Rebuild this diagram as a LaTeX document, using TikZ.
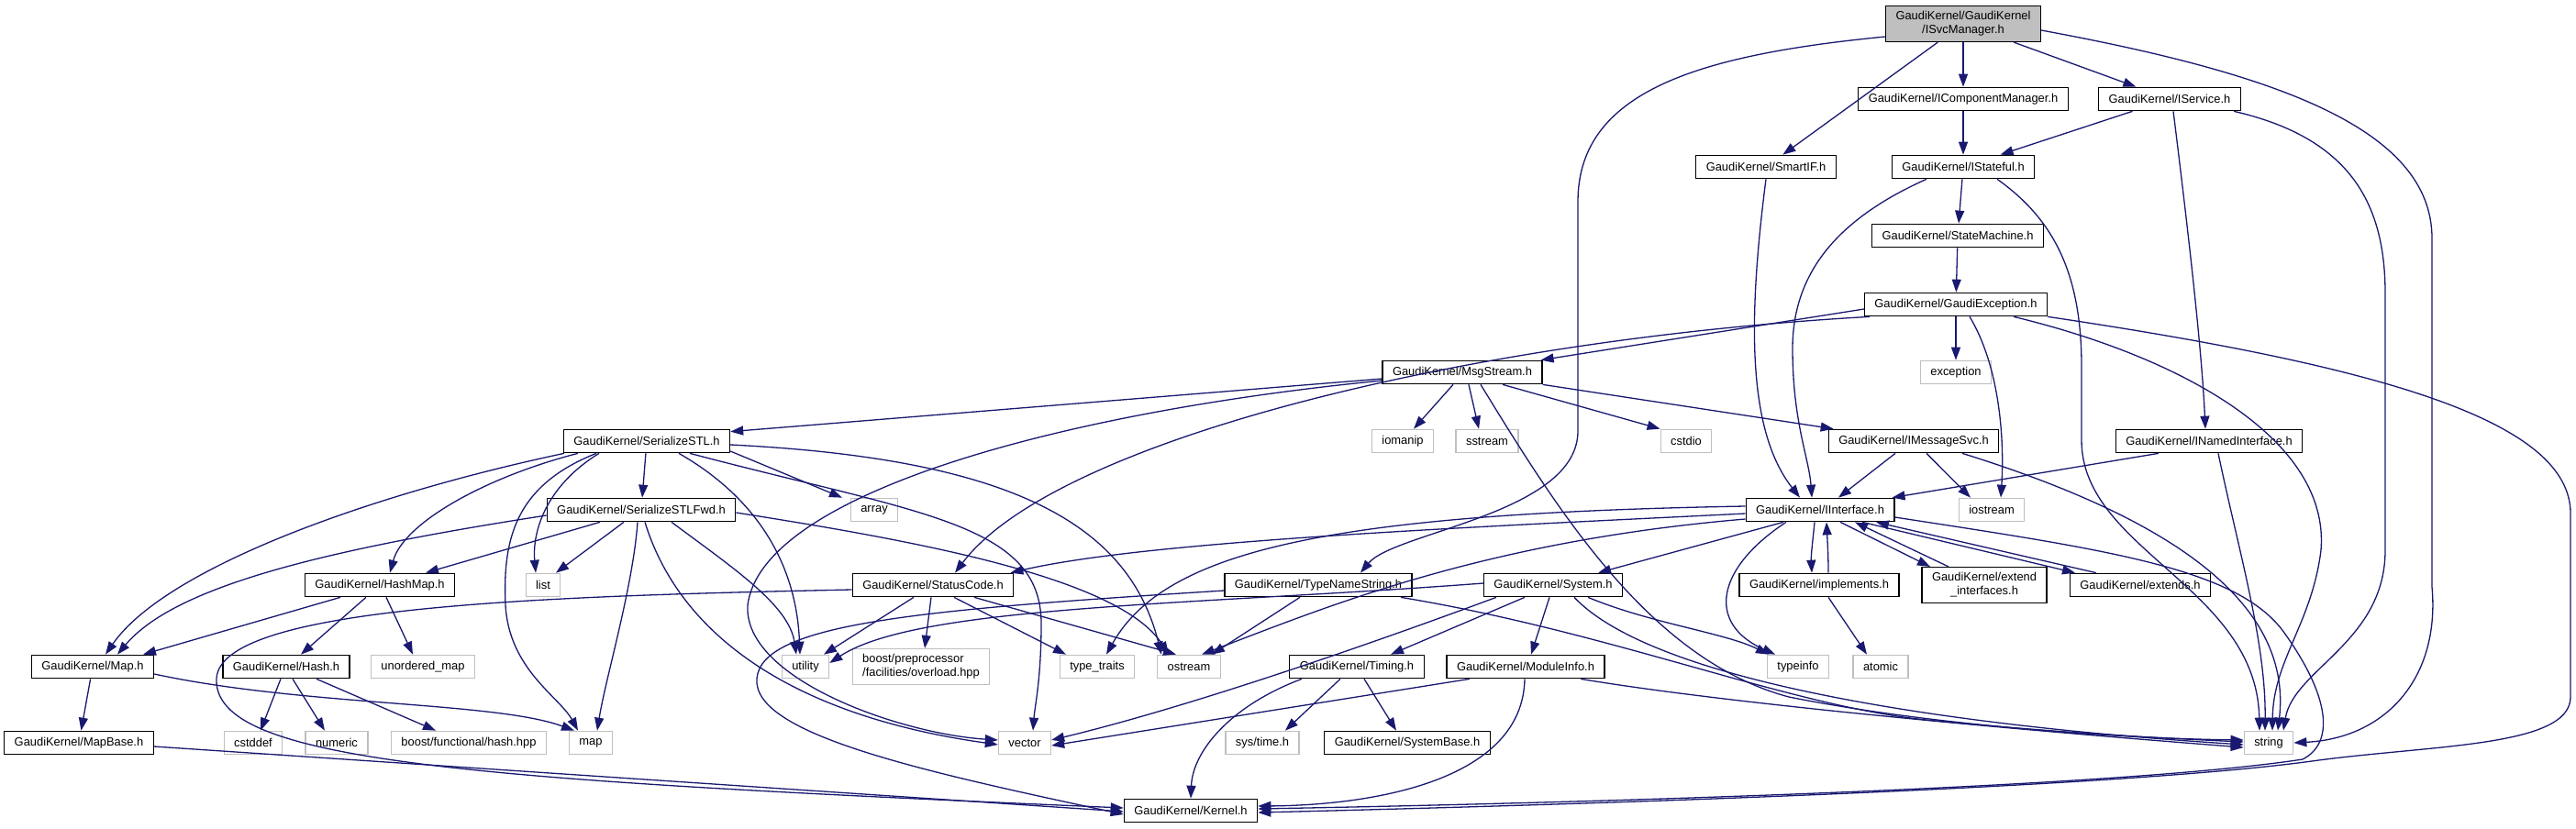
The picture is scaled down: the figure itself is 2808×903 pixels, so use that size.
\documentclass[tikz,border=0pt]{standalone}
\usepackage{tikz}
\usepackage{fontspec}
\setmainfont{Liberation Sans}
\usetikzlibrary{shapes.geometric, arrows.meta}
\definecolor{edgeblue}{HTML}{191970}
\definecolor{sysgray}{HTML}{BFBFBF}
\tikzstyle{filebox} = [rectangle, font=\fontsize{12.9}{15}\selectfont, inner xsep=11pt, inner ysep=6pt, minimum height=25.5pt, align=center, line width=1.2pt, fill=white, text=black]
\tikzstyle{incfile} = [filebox, draw=black]
\tikzstyle{stdfile} = [filebox, draw=sysgray]
\tikzstyle{mainfile} = [filebox, draw=black, fill=sysgray]
\tikzstyle{arrow} = [->, >={Triangle[length=14pt,width=10pt]}, draw=edgeblue, line width=1.3pt]

\begin{document}
\begin{tikzpicture}[x=1pt, y=-1pt]
\fill [white] (0,0) rectangle (2808,903);
\useasboundingbox (0,0) rectangle (2808,903);

\node (svcmgr) [mainfile] at (2140,26) {GaudiKernel/GaudiKernel\\/ISvcManager.h};
\node (compmgr) [incfile] at (2140,108) {GaudiKernel/IComponentManager.h};
\node (iservice) [incfile] at (2365,108) {GaudiKernel/IService.h};
\node (smartif) [incfile] at (1925,182) {GaudiKernel/SmartIF.h};
\node (istateful) [incfile] at (2140,182) {GaudiKernel/IStateful.h};
\node (statemachine) [incfile] at (2134,257) {GaudiKernel/StateMachine.h};
\node (gaudiexc) [incfile] at (2132,332) {GaudiKernel/GaudiException.h};
\node (exception) [stdfile] at (2132,406) {exception};
\node (msgstream) [incfile] at (1594,406) {GaudiKernel/MsgStream.h};
\node (iomanip) [stdfile] at (1529,481) {iomanip};
\node (sstream) [stdfile] at (1621,481) {sstream};
\node (cstdio) [stdfile] at (1838,481) {cstdio};
\node (imsgsvc) [incfile] at (2086,481) {GaudiKernel/IMessageSvc.h};
\node (inamed) [incfile] at (2408,481) {GaudiKernel/INamedInterface.h};
\node (serstl) [incfile] at (705,481) {GaudiKernel/SerializeSTL.h};
\node (array) [stdfile] at (953,556) {array};
\node (serfwd) [incfile] at (699,556) {GaudiKernel/SerializeSTLFwd.h};
\node (iinterface) [incfile] at (1984,556) {GaudiKernel/IInterface.h};
\node (iostream) [stdfile] at (2171,556) {iostream};
\node (hashmap) [incfile] at (414,638) {GaudiKernel/HashMap.h};
\node (list) [stdfile] at (592,638) {list};
\node (statuscode) [incfile] at (1017,638) {GaudiKernel/StatusCode.h};
\node (typename) [incfile] at (1437,638) {GaudiKernel/TypeNameString.h};
\node (system) [incfile] at (1693,638) {GaudiKernel/System.h};
\node (implements) [incfile] at (1983,638) {GaudiKernel/implements.h};
\node (extendif) [incfile] at (2163,638) {GaudiKernel/extend\\\_interfaces.h};
\node (extends) [incfile] at (2333,638) {GaudiKernel/extends.h};
\node (mapH) [incfile] at (101,727) {GaudiKernel/Map.h};
\node (hash) [incfile] at (312,727) {GaudiKernel/Hash.h};
\node (unorderedmap) [stdfile] at (461,727) {unordered\_map};
\node (utility) [stdfile] at (878,727) {utility};
\node (boostpp) [stdfile, align=left] at (1004,727) {boost/preprocessor\\/facilities/overload.hpp};
\node (typetraits) [stdfile] at (1196,727) {type\_traits};
\node (ostream) [stdfile] at (1296,727) {ostream};
\node (timing) [incfile] at (1479,727) {GaudiKernel/Timing.h};
\node (moduleinfo) [incfile] at (1663,727) {GaudiKernel/ModuleInfo.h};
\node (typeinfo) [stdfile] at (1960,727) {typeinfo};
\node (atomic) [stdfile] at (2050,727) {atomic};
\node (mapbase) [incfile] at (86,810) {GaudiKernel/MapBase.h};
\node (cstddef) [stdfile] at (276,810) {cstddef};
\node (numeric) [stdfile] at (367,810) {numeric};
\node (boosthash) [stdfile] at (511,810) {boost/functional/hash.hpp};
\node (stdmap) [stdfile] at (644,810) {map};
\node (vector) [stdfile] at (1117,810) {vector};
\node (systime) [stdfile] at (1376,810) {sys/time.h};
\node (systembase) [incfile] at (1534,810) {GaudiKernel/SystemBase.h};
\node (string) [stdfile] at (2473,810) {string};
\node (kernel) [incfile] at (1298,884) {GaudiKernel/Kernel.h};

% top of the graph
\draw [arrow] (svcmgr) -- (compmgr);
\draw [arrow] (svcmgr) -- (iservice);
\draw [arrow] (svcmgr) -- (smartif);
\draw [arrow] ([yshift=-14pt]svcmgr.west) .. controls (1850,60) and (1720,100) .. (1720,220) -- (1720,470) .. controls (1720,560) and (1520,580) .. ([xshift=46pt]typename.north);
\draw [arrow] ([yshift=-7pt]svcmgr.east) .. controls (2480,80) and (2651,140) .. (2651,260) -- (2651,640) .. controls (2660,740) and (2600,805) .. (string.east);

\draw [arrow] (compmgr) -- (istateful);
\draw [arrow] (iservice) -- (istateful);
\draw [arrow] ([xshift=4pt]iservice.south) .. controls (2385,250) and (2400,380) .. ([xshift=-4pt]inamed.north);
\draw [arrow] ([xshift=70pt]iservice.south) .. controls (2560,150) and (2600,220) .. (2600,320) -- (2600,600) .. controls (2600,700) and (2500,730) .. ([xshift=16pt]string.north);

\draw [arrow] (smartif.south) .. controls (1905,350) and (1905,470) .. ([xshift=-22pt]iinterface.north);
\draw [arrow] (istateful) -- (statemachine);
\draw [arrow] ([xshift=-40pt]istateful.south) .. controls (2000,240) and (1954,300) .. (1954,380) .. controls (1954,460) and (1972,500) .. ([xshift=-9pt]iinterface.north);
\draw [arrow] ([xshift=37pt]istateful.south) .. controls (2240,240) and (2269,300) .. (2269,400) -- (2269,480) .. controls (2269,600) and (2460,640) .. ([xshift=-10pt]string.north);

\draw [arrow] (statemachine) -- (gaudiexc);
\draw [arrow] (gaudiexc) -- (exception);
\draw [arrow] ([yshift=-5pt]gaudiexc.west) -- ([xshift=-2pt]msgstream.north east);
\draw [arrow] ([xshift=-94pt]gaudiexc.south) .. controls (1600,370) and (1150,480) .. ([xshift=24pt]statuscode.north);
\draw [arrow] ([xshift=15pt]gaudiexc.south) .. controls (2180,400) and (2185,480) .. ([xshift=10pt]iostream.north);
\draw [arrow] ([xshift=63pt]gaudiexc.south) .. controls (2380,390) and (2540,480) .. (2530,600) .. controls (2520,680) and (2478,720) .. ([xshift=4pt]string.north);
\draw [arrow] (gaudiexc.south east) .. controls (2600,400) and (2802,460) .. (2802,560) -- (2802,760) .. controls (2802,815) and (2650,812) .. (2520,830) .. controls (2300,860) and (1700,878) .. ([yshift=-2pt]kernel.east);

% MsgStream and IMessageSvc
\draw [arrow] ([yshift=-7pt]msgstream.west) -- ([yshift=-3pt]serstl.north east);
\draw [arrow] ([yshift=-9pt]msgstream.west) .. controls (1150,450) and (830,540) .. (815,660) .. controls (810,740) and (980,800) .. ([yshift=3pt]vector.west);
\draw [arrow] ([xshift=-10pt]msgstream.south) -- ([xshift=12pt]iomanip.north);
\draw [arrow] ([xshift=7pt]msgstream.south) -- ([xshift=-9pt]sstream.north);
\draw [arrow] ([xshift=20pt]msgstream.south) .. controls (1700,560) and (1800,720) .. (1950,760) .. controls (2100,790) and (2300,805) .. ([yshift=3pt]string.west);
\draw [arrow] ([xshift=44pt]msgstream.south) -- (cstdio.north west);
\draw [arrow] (msgstream.south east) -- ([xshift=6pt]imsgsvc.north west);

\draw [arrow] ([xshift=-20pt]imsgsvc.south) -- ([xshift=20pt]iinterface.north);
\draw [arrow] ([xshift=14pt]imsgsvc.south) -- ([xshift=-23pt]iostream.north);
\draw [arrow] ([xshift=53pt]imsgsvc.south) .. controls (2350,560) and (2500,650) .. ([xshift=10pt]string.north);

\draw [arrow] ([xshift=-55pt]inamed.south) -- ([xshift=-3pt]iinterface.north east);
\draw [arrow] ([xshift=10pt]inamed.south) .. controls (2440,600) and (2470,700) .. ([xshift=-4pt]string.north);

% SerializeSTL
\draw [arrow] ([xshift=-90pt]serstl.south) .. controls (400,540) and (180,620) .. ([xshift=14pt]mapH.north);
\draw [arrow] ([xshift=-75pt]serstl.south) .. controls (530,520) and (440,570) .. ([xshift=11pt]hashmap.north);
\draw [arrow] ([xshift=-55pt]serstl.south) .. controls (560,530) and (548,590) .. (551,660) .. controls (555,730) and (610,760) .. ([xshift=-14pt]stdmap.north);
\draw [arrow] ([xshift=-52pt]serstl.south) .. controls (595,530) and (580,580) .. ([xshift=-8pt]list.north);
\draw [arrow] (serstl) -- (serfwd);
\draw [arrow] ([xshift=35pt]serstl.south) .. controls (820,540) and (868,610) .. ([xshift=-6pt]utility.north);
\draw [arrow] ([xshift=47pt]serstl.south) .. controls (1000,560) and (1135,570) .. (1135,680) .. controls (1135,740) and (1128,770) .. ([xshift=9pt]vector.north);
\draw [arrow] ([yshift=-4pt]serstl.east) .. controls (1100,500) and (1230,570) .. ([xshift=-30pt]ostream.north);
\draw [arrow] ([yshift=-11pt]serstl.east) -- ([xshift=-35pt]array.north);

\draw [arrow] ([yshift=-6pt]serfwd.west) .. controls (350,600) and (190,640) .. ([xshift=27pt]mapH.north);
\draw [arrow] ([xshift=-45pt]serfwd.south) -- ([xshift=50pt]hashmap.north);
\draw [arrow] ([xshift=-19pt]serfwd.south) -- ([xshift=14pt]list.north);
\draw [arrow] ([xshift=-4pt]serfwd.south) .. controls (690,640) and (660,740) .. ([xshift=7pt]stdmap.north);
\draw [arrow] ([xshift=4pt]serfwd.south) .. controls (740,690) and (860,780) .. ([yshift=-2pt]vector.west);
\draw [arrow] ([xshift=33pt]serfwd.south) .. controls (800,620) and (860,660) .. ([xshift=-10pt]utility.north);
\draw [arrow] ([yshift=-3pt]serfwd.east) .. controls (1000,590) and (1220,630) .. ([xshift=-22pt]ostream.north);

% maps and hashes
\draw [arrow] ([xshift=-43pt]hashmap.south) -- ([xshift=55pt]mapH.north);
\draw [arrow] ([xshift=-15pt]hashmap.south) -- ([xshift=16pt]hash.north);
\draw [arrow] ([xshift=7pt]hashmap.south) -- ([xshift=-11pt]unorderedmap.north);
\draw [arrow] (mapH) -- (mapbase);
\draw [arrow] ([yshift=-8pt]mapH.east) .. controls (330,770) and (540,765) .. ([xshift=-18pt]stdmap.north);
\draw [arrow] ([yshift=-4pt]mapbase.east) -- ([yshift=-1pt]kernel.west);
\draw [arrow] ([xshift=-6pt]hash.south) -- ([xshift=8pt]cstddef.north);
\draw [arrow] ([xshift=7pt]hash.south) -- ([xshift=-13pt]numeric.north);
\draw [arrow] ([xshift=33pt]hash.south) -- ([xshift=-36pt]boosthash.north);

% StatusCode and TypeNameString
\draw [arrow] ([xshift=-21pt]statuscode.south) -- ([xshift=20pt]utility.north);
\draw [arrow] ([xshift=-2pt]statuscode.south) -- ([xshift=4pt]boostpp.north);
\draw [arrow] ([xshift=23pt]statuscode.south) -- ([xshift=-34pt]typetraits.north);
\draw [arrow] ([xshift=45pt]statuscode.south) -- ([xshift=-14pt]ostream.north);
\draw [arrow] ([yshift=-5pt]statuscode.west) .. controls (600,650) and (240,660) .. (236,740) .. controls (232,830) and (500,850) .. ([yshift=3pt]kernel.west);

\draw [arrow] ([xshift=-20pt]typename.south) -- ([xshift=25pt]ostream.north);
\draw [arrow] ([xshift=90pt]typename.south) .. controls (1760,690) and (1950,770) .. (2100,785) .. controls (2250,800) and (2380,806) .. ([yshift=1pt]string.west);
\draw [arrow] ([yshift=-6pt]typename.west) .. controls (1000,665) and (830,680) .. (825,740) .. controls (820,800) and (1000,840) .. ([yshift=-4pt]kernel.west);

% IInterface
\draw [arrow] ([yshift=-4pt]iinterface.west) .. controls (1600,575) and (1250,590) .. ([xshift=-4pt]statuscode.north east);
\draw [arrow] ([yshift=4pt]iinterface.west) .. controls (1450,560) and (1270,600) .. ([xshift=10pt]typetraits.north);
\draw [arrow] ([yshift=-10pt]iinterface.west) .. controls (1620,590) and (1450,660) .. ([xshift=14pt]ostream.north);
\draw [arrow] ([xshift=-40pt]iinterface.south) -- ([xshift=49pt]system.north);
\draw [arrow] ([xshift=-37pt]iinterface.south) .. controls (1870,620) and (1860,680) .. ([xshift=-25pt]typeinfo.north);
\draw [arrow] ([xshift=-6pt]iinterface.south) .. controls (1976,590) and (1974,605) .. ([xshift=-8pt]implements.north);
\draw [arrow] ([xshift=10pt]implements.north) .. controls (1993,605) and (1992,590) .. ([xshift=7pt]iinterface.south);
\draw [arrow] ([xshift=22pt]iinterface.south) -- ([xshift=-59pt]extendif.north);
\draw [arrow] ([xshift=-39pt]extendif.north) -- ([xshift=38pt]iinterface.south);
\draw [arrow] ([xshift=46pt]iinterface.south) -- ([xshift=-71pt]extends.north);
\draw [arrow] ([xshift=-48pt]extends.north) -- ([xshift=61pt]iinterface.south);
\draw [arrow] ([yshift=-8pt]iinterface.east) .. controls (2300,600) and (2440,620) .. (2490,690) .. controls (2540,760) and (2545,810) .. (2510,828) .. controls (2300,860) and (1700,876) .. ([yshift=2pt]kernel.east);

% System and below
\draw [arrow] ([xshift=-31pt]system.south) -- ([xshift=37pt]timing.north);
\draw [arrow] ([xshift=-4pt]system.south) -- ([xshift=6pt]moduleinfo.north);
\draw [arrow] ([xshift=-62pt]system.south) .. controls (1500,700) and (1300,770) .. ([yshift=3pt]vector.east);
\draw [arrow] ([xshift=23pt]system.south) .. controls (1800,740) and (2100,790) .. ([yshift=-2pt]string.west);
\draw [arrow] ([xshift=38pt]system.south) .. controls (1800,680) and (1880,690) .. ([xshift=-32pt]typeinfo.north);
\draw [arrow] ([yshift=2pt]system.west) .. controls (1300,660) and (1000,660) .. ([yshift=4pt]utility.east);

\draw [arrow] ([xshift=-61pt]moduleinfo.south) -- ([yshift=-3pt]vector.east);
\draw [arrow] ([xshift=-1pt]moduleinfo.south) .. controls (1660,850) and (1500,878) .. ([yshift=5pt]kernel.east);
\draw [arrow] ([xshift=60pt]moduleinfo.south) .. controls (1900,770) and (2250,800) .. ([yshift=-5pt]string.west);

\draw [arrow] ([xshift=-60pt]timing.south) .. controls (1340,770) and (1300,820) .. (kernel.north);
\draw [arrow] ([xshift=-18pt]timing.south) -- ([xshift=25pt]systime.north);
\draw [arrow] ([xshift=8pt]timing.south) -- ([xshift=-12pt]systembase.north);

\draw [arrow] ([xshift=10pt]implements.south) -- ([xshift=-15pt]atomic.north);

\end{tikzpicture}
\end{document}
